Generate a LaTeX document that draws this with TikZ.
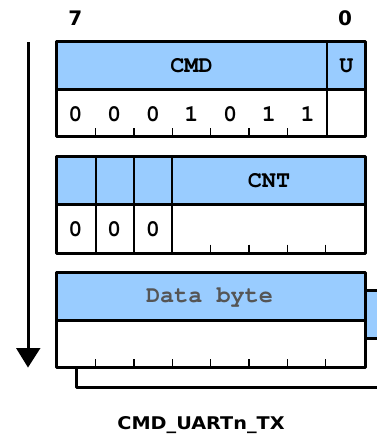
\documentclass[tikz,border=0pt]{standalone}
\usepackage[T1]{fontenc}
\usepackage{fontspec}
\newfontfamily\capfont{DejaVu Sans}
\newcommand\courb{\fontencoding{T1}\fontfamily{pcr}\fontseries{b}\fontshape{n}\fontsize{23.5}{23.5}\selectfont}
\definecolor{hdr}{RGB}{153,204,255}
\definecolor{gtxt}{RGB}{85,85,85}
\begin{document}
\begin{tikzpicture}[x=1pt,y=-1pt,
  outer/.style={line width=3pt,line join=round},
  divline/.style={line width=1.8pt},
  tick/.style={line width=1.5pt},
  mono/.style={font=\courb},
  bitnum/.style={font=\capfont\bfseries\fontsize{20}{20}\selectfont},
  lbl/.style={inner sep=0pt}]
\useasboundingbox (0,0) rectangle (377,437);
\begin{scope}
\clip (0,0) rectangle (377,437);
% back box (shadow)
\fill[hdr] (76,290.7) rectangle (390,338.3);
\draw[outer] (76,290.7) rectangle (390,387.3);
\draw[outer] (76,338.3) -- (390,338.3);
% box 3 front
\fill[white] (56,272.7) rectangle (365.7,367.3);
\fill[hdr] (56,272.7) rectangle (365.7,320);
\draw[outer] (56,320) -- (365.7,320);
\draw[outer] (56,272.7) rectangle (365.7,367.3);
\end{scope}
% box 1
\fill[hdr] (56,41.7) rectangle (365.7,89);
\draw[divline] (326.9,41.7) -- (326.9,136);
\draw[outer] (56,89) -- (365.7,89);
\draw[outer] (56,41.7) rectangle (365.7,136);
% box 2
\fill[hdr] (56,156.7) rectangle (365.7,204);
\foreach \x in {95.7,134,172.3} \draw[divline] (\x,156.7) -- (\x,253);
\draw[outer] (56,204) -- (365.7,204);
\draw[outer] (56,156.7) rectangle (365.7,253);
% ticks
\foreach \x in {95.7,134,172.3,210.7,249,287.3} \draw[tick] (\x,128) -- (\x,136);
\foreach \x in {210.7,249,287.3,325.7} \draw[tick] (\x,244.5) -- (\x,253);
\foreach \x in {95.7,134,172.3,210.7,249,287.3,325.7} \draw[tick] (\x,359.3) -- (\x,367.3);
% labels
\node[lbl,bitnum] (b7) at (75.4,18.5) {7};
\node[lbl,bitnum] (b0) at (345,18.5) {0};
\node[lbl,mono] (cmd) at (191.5,66) {CMD};
\node[lbl,mono] (u) at (346.3,66) {U};
\foreach \x/\v [count=\i] in {75.4/0,114.1/0,152.8/0,191.5/1,230.2/0,268.9/1,307.6/1}
  \node[lbl,mono] (d\i) at (\x,114.5) {\v};
\node[lbl,mono] (cnt) at (269,181) {CNT};
\foreach \x [count=\i] in {75.4,114.1,152.8}
  \node[lbl,mono] (c\i) at (\x,229) {0};
\node[lbl,mono,text=gtxt] (data) at (209.5,296.5) {Data byte};
\node[lbl,font=\capfont\bfseries\fontsize{17.5}{17.5}\selectfont,xscale=1.1] (cap) at (201,424.8) {CMD\_UARTn\_TX};
% arrow
\coordinate (atop) at (28,42);
\coordinate (abase) at (28,348);
\coordinate (atip) at (28,367.5);
\draw[line width=3pt] (atop) -- (abase);
\fill (16,348) -- (40.5,348) -- (atip) -- cycle;
\end{tikzpicture}
\end{document}
